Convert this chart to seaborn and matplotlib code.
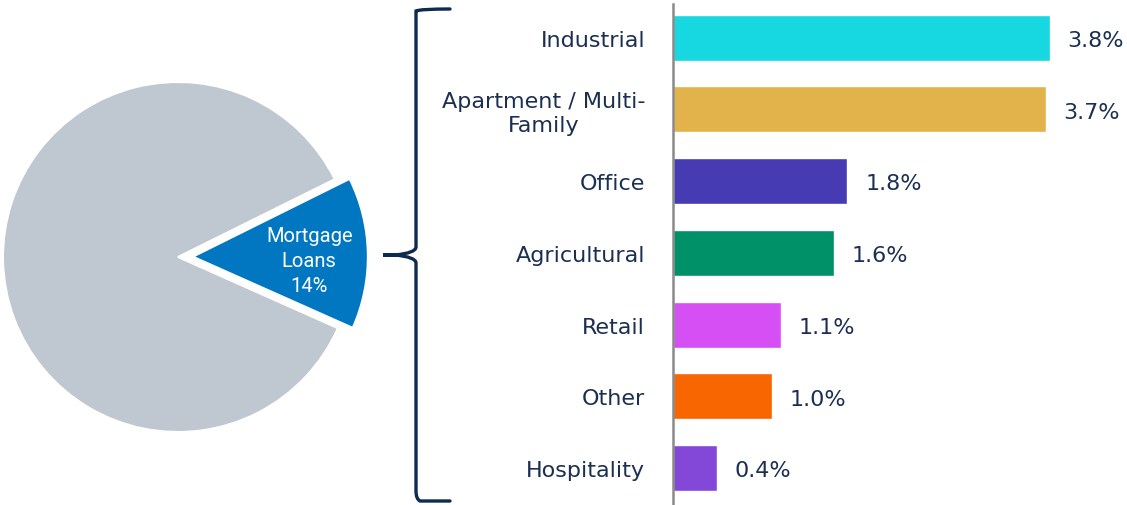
import matplotlib
matplotlib.use("Agg")
import matplotlib.pyplot as plt
from matplotlib.path import Path
from matplotlib.patches import PathPatch
import seaborn as sns
import pandas as pd

# ---- data ----
pie_labels = ["Mortgage Loans", "Other"]
pie_values = [14, 86]
categories = ["Industrial", "Apartment / Multi-\nFamily", "Office", "Agricultural",
              "Retail", "Other", "Hospitality"]
values = [3.80, 3.76, 1.76, 1.62, 1.09, 1.00, 0.44]
value_labels = ["3.8%", "3.7%", "1.8%", "1.6%", "1.1%", "1.0%", "0.4%"]
bar_colors = ["#17d7e0", "#e2b34b", "#463bb3", "#009169", "#d64ff5", "#f76600", "#8348d8"]

sns.set_theme(style="white")
plt.rcParams['font.family'] = ['DejaVu Sans']
NAVY = "#1b2f52"

W, H = 1127, 506
fig = plt.figure(figsize=(W / 100, H / 100), dpi=100)

def px_axes(x0, y0, x1, y1):
    return fig.add_axes([x0 / W, 1 - y1 / H, (x1 - x0) / W, (y1 - y0) / H])

# ---- pie ----
cx, cy, R = 178, 258, 175
lim = 1.2
axp = px_axes(cx - lim * R, cy - lim * R, cx + lim * R, cy + lim * R)
wedges, _ = axp.pie(pie_values, colors=["#0077c0", "#bfc7d0"], startangle=-24,
                    counterclock=True, explode=[0.085, 0], radius=1,
                    wedgeprops=dict(edgecolor="white", linewidth=1.5))
for w in wedges:
    w.set_clip_on(False)
axp.set_xlim(-lim, lim)
axp.set_ylim(-lim, lim)
axp.set_aspect("equal")
axp.axis("off")
axp.text(0.75, -0.02, "Mortgage\nLoans\n14%", color="white", ha="center", va="center",
         fontsize=14.5, linespacing=1.4,
         family=["Roboto", "DejaVu Sans"])

# ---- bars ----
axb = px_axes(673, 5, W, 505)
df = pd.DataFrame({"cat": categories, "val": values})
sns.barplot(data=df, y="cat", x="val", hue="cat", palette=bar_colors, legend=False,
            orient="h", width=0.64, ax=axb, saturation=1)
axb.set_ylim(6.5, -0.47)
axb.set_xlim(0, 4.58)
for p, lab in zip(axb.patches, value_labels):
    axb.text(p.get_width() + 0.18, p.get_y() + p.get_height() / 2 + 0.03, lab,
             va="center", ha="left", fontsize=16, color=NAVY)
axb.set_xlabel("")
axb.set_ylabel("")
axb.set_xticks([])
axb.tick_params(axis="y", length=0, pad=20, labelsize=16, labelcolor=NAVY)
for t in axb.get_yticklabels():
    t.set_horizontalalignment("right")
    t.set_multialignment("center")
for s in ["top", "right", "bottom"]:
    axb.spines[s].set_visible(False)
axb.spines["left"].set_color("#8a8a8a")
axb.spines["left"].set_linewidth(1.8)

# ---- brace ----
axo = fig.add_axes([0, 0, 1, 1], zorder=-1)
axo.set_xlim(0, W)
axo.set_ylim(H, 0)
axo.axis("off")
verts = [(450, 10), (420, 10), (416, 12), (416, 20),
         (416, 248), (416, 254), (395, 256), (383, 256),
         (395, 256), (416, 258), (416, 264),
         (416, 492), (416, 500), (420, 502), (450, 502)]
codes = [Path.MOVETO, Path.CURVE3, Path.CURVE3, Path.LINETO,
         Path.LINETO, Path.CURVE3, Path.CURVE3, Path.LINETO,
         Path.LINETO, Path.CURVE3, Path.CURVE3,
         Path.LINETO, Path.CURVE3, Path.CURVE3, Path.LINETO]
axo.add_patch(PathPatch(Path(verts, codes), facecolor="none", edgecolor="#0d2a4f",
                        linewidth=2.4, capstyle="round"))

fig.savefig("out.png", dpi=100)
